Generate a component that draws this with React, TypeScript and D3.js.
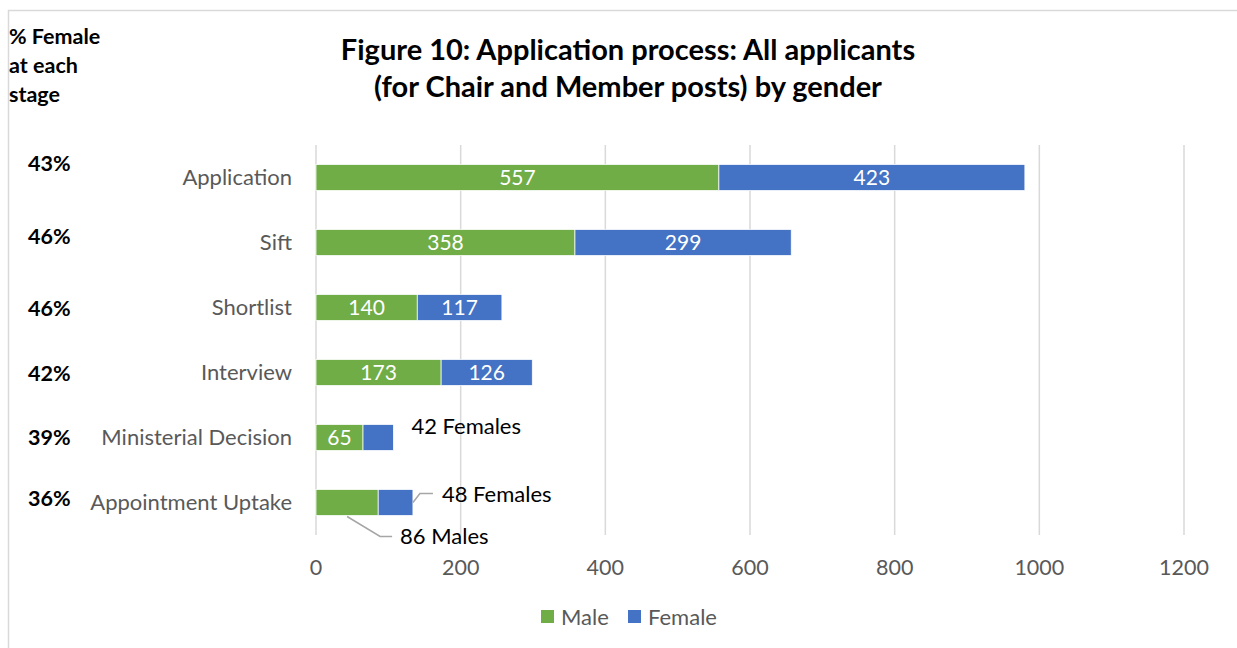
import React from "react";
import * as d3 from "d3";

const stages = ["Application", "Sift", "Shortlist", "Interview", "Ministerial Decision", "Appointment Uptake"];
const male = [557, 358, 140, 173, 65, 86];
const female = [423, 299, 117, 126, 42, 48];
const xTicks = [0, 200, 400, 600, 800, 1000, 1200];
const titleLines = ["Figure 10: Application process: All applicants", "(for Chair and Member posts) by gender"];
const sideHeader = ["% Female", "at each", "stage"];
// vertical nudges of the free-floating % text boxes relative to bar centres
const pctNudge = [-14, -6, 1, 1, 0, -4];

const W = 1237;
const H = 648;
const GREEN = "#70ad47";
const BLUE = "#4472c4";
const GRID = "#d9d9d9";
const GREY = "#595959";
const FONT = "Lato, 'Open Sans', sans-serif";

export default function App() {
  const x = d3.scaleLinear().domain([0, 1200]).range([316, 1184]);
  const y = d3.scaleBand<string>().domain(stages).range([145, 535]).paddingInner(0.6).paddingOuter(0.3);
  const bw = y.bandwidth();

  const last = stages.length - 1;
  const mdIdx = 4;

  return (
    <svg width={W} height={H} style={{ position: "absolute", left: 0, top: 0 }} fontFamily={FONT}>
      <rect x={0} y={0} width={W} height={H} fill="#fff" />
      <rect x={8.5} y={10.5} width={W + 20} height={H + 20} fill="#fff" stroke={GRID} strokeWidth={1.5} />

      {titleLines.map((t, i) => (
        <text key={t} x={628} y={60 + i * 37} textAnchor="middle" fontSize={29} fontWeight="bold" fill="#000">
          {t}
        </text>
      ))}

      {sideHeader.map((t, i) => (
        <text key={t} x={9} y={44 + i * 29} fontSize={21.5} fontWeight="bold" fill="#000">
          {t}
        </text>
      ))}

      {xTicks.map((t) => (
        <g key={t}>
          <line x1={x(t)} x2={x(t)} y1={145} y2={535} stroke={GRID} strokeWidth={1.5} />
          <text x={x(t)} y={567} dy="0.35em" textAnchor="middle" fontSize={21.5} fill={GREY}>
            {t}
          </text>
        </g>
      ))}

      {stages.map((s, i) => {
        const y0 = y(s)!;
        const yc = y0 + bw / 2;
        const pct = Math.round((female[i] / (male[i] + female[i])) * 100);
        return (
          <g key={s}>
            <text x={292} y={yc} dy="0.35em" textAnchor="end" fontSize={22} fill={GREY}>
              {s}
            </text>
            <text x={28} y={yc + pctNudge[i]} dy="0.35em" fontSize={21.5} fontWeight="bold" fill="#000">
              {pct}%
            </text>
            <rect x={x(0)} y={y0} width={x(male[i]) - x(0)} height={bw} fill={GREEN} stroke="#fff" strokeWidth={0.75} />
            <rect
              x={x(male[i])}
              y={y0}
              width={x(male[i] + female[i]) - x(male[i])}
              height={bw}
              fill={BLUE}
              stroke="#fff"
              strokeWidth={0.75}
            />
            {i !== last && (
              <text x={(x(0) + x(male[i])) / 2} y={yc} dy="0.35em" textAnchor="middle" fontSize={21} fill="#fff">
                {male[i]}
              </text>
            )}
            {i !== last && i !== mdIdx && (
              <text
                x={(x(male[i]) + x(male[i] + female[i])) / 2}
                y={yc}
                dy="0.35em"
                textAnchor="middle"
                fontSize={21}
                fill="#fff"
              >
                {female[i]}
              </text>
            )}
          </g>
        );
      })}

      {/* Ministerial Decision female callout */}
      {(() => {
        const yc = y(stages[mdIdx])! + bw / 2;
        const xe = x(male[mdIdx] + female[mdIdx]);
        return (
          <text x={xe + 18} y={yc - 11} dy="0.35em" fontSize={22} fill="#000">
            {female[mdIdx]} Females
          </text>
        );
      })()}

      {/* Appointment Uptake callouts */}
      {(() => {
        const y0 = y(stages[last])!;
        const yc = y0 + bw / 2;
        const xe = x(male[last] + female[last]);
        const xm = x(male[last] / 2);
        return (
          <g>
            <polyline
              points={`${xe},${yc} ${xe + 7},${yc - 9} ${xe + 20},${yc - 9}`}
              fill="none"
              stroke="#a6a6a6"
              strokeWidth={1.5}
            />
            <text x={xe + 29} y={yc - 8} dy="0.35em" fontSize={22} fill="#000">
              {female[last]} Females
            </text>
            <polyline
              points={`${xm},${y0 + bw + 1} ${xm + 33},${yc + 34} ${xm + 45},${yc + 34}`}
              fill="none"
              stroke="#a6a6a6"
              strokeWidth={1.5}
            />
            <text x={xm + 53} y={yc + 34} dy="0.35em" fontSize={22} fill="#000">
              {male[last]} Males
            </text>
          </g>
        );
      })()}

      {/* Legend */}
      <rect x={541} y={610} width={13} height={13} fill={GREEN} />
      <text x={561} y={617} dy="0.35em" fontSize={22} fill={GREY}>
        Male
      </text>
      <rect x={628} y={610} width={13} height={13} fill={BLUE} />
      <text x={648} y={617} dy="0.35em" fontSize={22} fill={GREY}>
        Female
      </text>
    </svg>
  );
}
